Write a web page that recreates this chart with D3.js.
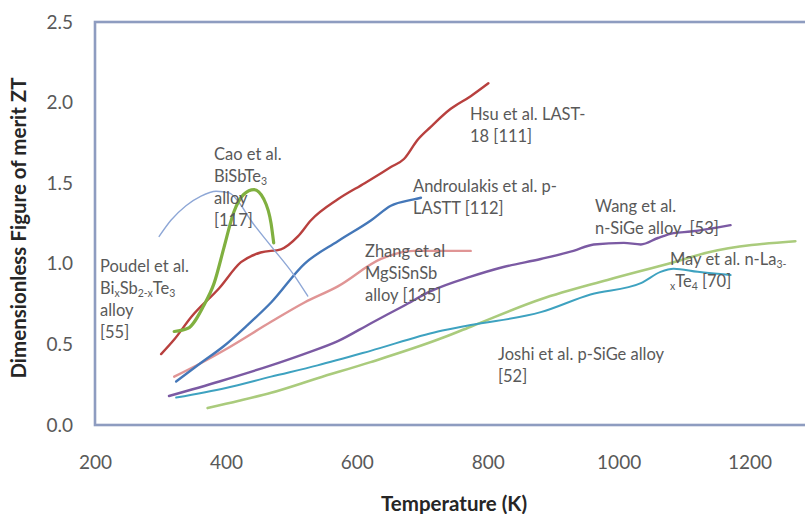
<!DOCTYPE html>
<html lang="en">
<head>
    <meta charset="UTF-8">
    <title>ZT vs Temperature</title>
    <script src="https://d3js.org/d3.v7.min.js"></script>
    <style type="text/css">
        body { margin: 0; background: #fff; }
        text { font-family: Lato, "Open Sans", sans-serif; }
        .tick text { fill: #595959; font-size: 19px; }
        .note { fill: #595959; font-size: 16.5px; }
        .title { fill: #262626; font-size: 20.5px; font-weight: bold; }
    </style>
</head>
<body>
    <div id="chartArea"></div>
    <script type="text/javascript">
        // tick labels
        var xTicks = [200, 400, 600, 800, 1000, 1200];
        var yTicks = [0, 0.5, 1.0, 1.5, 2.0, 2.5];

        // Hsu et al. LAST-18
        var tHsu = [301, 321, 347, 390, 423, 453, 484, 510, 530, 571, 612, 652, 672, 693, 713, 743, 774, 801];
        var ztHsu = [0.44, 0.53, 0.67, 0.85, 1.01, 1.07, 1.09, 1.17, 1.27, 1.40, 1.50, 1.60, 1.65, 1.77, 1.85, 1.96, 2.04, 2.12];
        // Androulakis et al. p-LASTT
        var tAndr = [324, 360, 397, 433, 469, 520, 571, 622, 652, 687, 698];
        var ztAndr = [0.27, 0.38, 0.49, 0.62, 0.76, 1.00, 1.14, 1.27, 1.36, 1.40, 1.41];
        // Zhang et al. MgSiSnSb
        var tZhang = [321, 360, 400, 469, 520, 571, 637, 687, 730, 774];
        var ztZhang = [0.30, 0.38, 0.47, 0.64, 0.76, 0.86, 1.03, 1.08, 1.08, 1.08];
        // Wang et al. n-SiGe
        var tWang = [313, 390, 469, 519, 571, 621, 672, 713, 774, 824, 881, 931, 962, 1008, 1034, 1060, 1084, 1110, 1171];
        var ztWang = [0.18, 0.27, 0.37, 0.44, 0.52, 0.63, 0.74, 0.83, 0.92, 0.98, 1.03, 1.08, 1.12, 1.13, 1.12, 1.16, 1.19, 1.20, 1.24];
        // May et al. n-La3-xTe4
        var tMay = [324, 400, 469, 540, 621, 724, 774, 881, 957, 1034, 1064, 1084, 1121, 1171];
        var ztMay = [0.17, 0.23, 0.30, 0.37, 0.46, 0.58, 0.62, 0.70, 0.81, 0.88, 0.95, 0.97, 0.95, 0.93];
        // Joshi et al. p-SiGe
        var tJoshi = [372, 420, 469, 540, 621, 724, 774, 881, 983, 1084, 1136, 1270];
        var ztJoshi = [0.105, 0.15, 0.20, 0.29, 0.39, 0.53, 0.61, 0.78, 0.90, 1.01, 1.07, 1.14];
        // Cao et al. BiSbTe3 (thin arc)
        var tCao = [298, 316, 339, 362, 385, 405, 420, 438, 469, 504, 525];
        var ztCao = [1.17, 1.27, 1.36, 1.42, 1.45, 1.44, 1.38, 1.27, 1.11, 0.93, 0.80];
        // Poudel et al. BixSb2-xTe3 (thick green)
        var tPoudel = [321, 342, 366, 382, 397, 412, 427, 443, 458, 469, 473];
        var ztPoudel = [0.58, 0.60, 0.74, 0.88, 1.10, 1.32, 1.43, 1.46, 1.40, 1.25, 1.13];

        var series = [
            { t: tJoshi, zt: ztJoshi, color: '#aacb7c', width: 2.6 },
            { t: tMay, zt: ztMay, color: '#3ea2c0', width: 2 },
            { t: tWang, zt: ztWang, color: '#7b5aa3', width: 2.4 },
            { t: tZhang, zt: ztZhang, color: '#e09595', width: 2.4 },
            { t: tAndr, zt: ztAndr, color: '#4477b8', width: 2.4 },
            { t: tHsu, zt: ztHsu, color: '#b8403e', width: 2.4 },
            { t: tCao, zt: ztCao, color: '#8ea7d6', width: 1.4 },
            { t: tPoudel, zt: ztPoudel, color: '#80b040', width: 3.2 }
        ];

        var margin = { top: 22, left: 95 };
        var w = 720, h = 403;

        var svg = d3.select('#chartArea').append('svg')
            .attr('width', 805)
            .attr('height', 514);

        var xScale = d3.scaleLinear().domain([200, 1300]).range([margin.left, margin.left + w]);
        var yScale = d3.scaleLinear().domain([0, 2.5]).range([margin.top + h, margin.top]);

        // plot border
        svg.append('rect')
            .attr('x', margin.left)
            .attr('y', margin.top)
            .attr('width', w)
            .attr('height', h)
            .attr('fill', 'none')
            .attr('stroke', '#8e9cc0')
            .attr('stroke-width', 2.6);

        var xAxis = svg.append('g')
            .attr('transform', 'translate(0,' + (margin.top + h) + ')')
            .call(d3.axisBottom(xScale).tickValues(xTicks).tickSize(0).tickPadding(31)
                .tickFormat(d3.format('d')));
        xAxis.select('.domain').remove();

        var yAxis = svg.append('g')
            .attr('transform', 'translate(' + margin.left + ',0)')
            .call(d3.axisLeft(yScale).tickValues(yTicks).tickSize(0).tickPadding(22)
                .tickFormat(d3.format('.1f')));
        yAxis.select('.domain').remove();

        var line = d3.line()
            .x(function (d) { return xScale(d[0]); })
            .y(function (d) { return yScale(d[1]); })
            .curve(d3.curveMonotoneX);

        svg.selectAll('path.series')
            .data(series)
            .enter()
            .append('path')
            .attr('class', 'series')
            .attr('d', function (d) {
                return line(d3.zip(d.t, d.zt));
            })
            .attr('fill', 'none')
            .attr('stroke', function (d) { return d.color; })
            .attr('stroke-width', function (d) { return d.width; })
            .attr('stroke-linecap', 'round');

        // annotations: each line is a list of [text, isSub]
        var notes = [
            { x: 100, y: 272, lines: [[['Poudel et al.', 0]], [['Bi', 0], ['x', 1], ['Sb', 0], ['2-x', 1], ['Te', 0], ['3', 1]], [['alloy', 0]], [['[55]', 0]]] },
            { x: 214, y: 160, lines: [[['Cao et al.', 0]], [['BiSbTe', 0], ['3', 1]], [['alloy', 0]], [['[117]', 0]]] },
            { x: 470, y: 120, lines: [[['Hsu et al. LAST-', 0]], [['18 [111]', 0]]] },
            { x: 413, y: 192, lines: [[['Androulakis et al. p-', 0]], [['LASTT [112]', 0]]] },
            { x: 365, y: 257, lines: [[['Zhang et al', 0]], [['MgSiSnSb', 0]], [['alloy [135]', 0]]] },
            { x: 595, y: 212, lines: [[['Wang et al.', 0]], [['n-SiGe alloy\u00a0 [53]', 0]]] },
            { x: 670, y: 265, lines: [[['May et al. n-La', 0], ['3-', 1]], [['x', 1], ['Te', 0], ['4', 1], [' [70]', 0]]] },
            { x: 498, y: 360, lines: [[['Joshi et al. p-SiGe alloy', 0]], [['[52]', 0]]] }
        ];

        notes.forEach(function (n) {
            var t = svg.append('text').attr('class', 'note');
            n.lines.forEach(function (ln, i) {
                var first = true;
                ln.forEach(function (part) {
                    var ts = t.append('tspan').text(part[0]);
                    if (first) {
                        ts.attr('x', n.x).attr('y', n.y + i * 22);
                        first = false;
                    }
                    if (part[1]) {
                        ts.attr('font-size', '10.5px').attr('baseline-shift', '-2.5');
                    }
                });
            });
        });

        svg.append('text')
            .attr('class', 'title')
            .attr('x', 454)
            .attr('y', 511)
            .attr('text-anchor', 'middle')
            .text('Temperature (K)');

        svg.append('text')
            .attr('class', 'title')
            .attr('transform', 'translate(26,228) rotate(-90)')
            .attr('text-anchor', 'middle')
            .text('Dimensionless Figure of merit ZT');
    </script>
</body>
</html>
